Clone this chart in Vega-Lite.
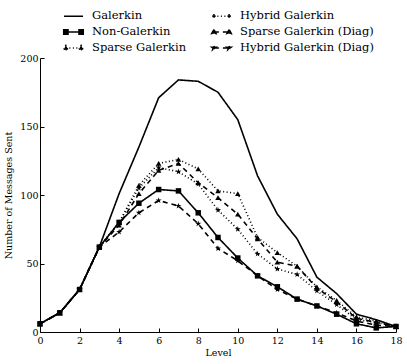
{
  "$schema": "https://vega.github.io/schema/vega-lite/v6.json",
  "width": 356,
  "height": 274,
  "autosize": {"type": "none"},
  "padding": {"left": 40, "top": 58, "right": 11, "bottom": 32},
  "config": {
    "view": {"stroke": null},
    "font": "DejaVu Serif",
    "axis": {
      "grid": false,
      "domainColor": "black",
      "domainWidth": 1,
      "tickColor": "black",
      "labelColor": "black",
      "titleColor": "black",
      "labelFont": "DejaVu Serif",
      "titleFont": "DejaVu Serif",
      "labelFontSize": 9.5,
      "titleFontSize": 9.5,
      "titleFontWeight": "normal",
      "tickSize": -4
    },
    "legend": {
      "title": null,
      "orient": "none",
      "legendX": 25.5,
      "legendY": -50,
      "columns": 2,
      "columnPadding": 22,
      "rowPadding": 2,
      "symbolSize": 196,
      "symbolOpacity": 1,
      "labelOffset": 10.5,
      "labelFont": "DejaVu Serif",
      "labelFontSize": 11.5,
      "labelColor": "black",
      "labelLimit": 300
    }
  },
  "data": {
    "values": [
      {"level": 0, "series": "Galerkin", "value": 6},
      {"level": 1, "series": "Galerkin", "value": 14},
      {"level": 2, "series": "Galerkin", "value": 31},
      {"level": 3, "series": "Galerkin", "value": 62},
      {"level": 4, "series": "Galerkin", "value": 101},
      {"level": 5, "series": "Galerkin", "value": 135},
      {"level": 6, "series": "Galerkin", "value": 171},
      {"level": 7, "series": "Galerkin", "value": 184},
      {"level": 8, "series": "Galerkin", "value": 183},
      {"level": 9, "series": "Galerkin", "value": 175},
      {"level": 10, "series": "Galerkin", "value": 155},
      {"level": 11, "series": "Galerkin", "value": 114},
      {"level": 12, "series": "Galerkin", "value": 86},
      {"level": 13, "series": "Galerkin", "value": 68},
      {"level": 14, "series": "Galerkin", "value": 40},
      {"level": 15, "series": "Galerkin", "value": 28},
      {"level": 16, "series": "Galerkin", "value": 13},
      {"level": 17, "series": "Galerkin", "value": 9},
      {"level": 18, "series": "Galerkin", "value": 4},

      {"level": 0, "series": "Non-Galerkin", "value": 6},
      {"level": 1, "series": "Non-Galerkin", "value": 14},
      {"level": 2, "series": "Non-Galerkin", "value": 31},
      {"level": 3, "series": "Non-Galerkin", "value": 62},
      {"level": 4, "series": "Non-Galerkin", "value": 80},
      {"level": 5, "series": "Non-Galerkin", "value": 94},
      {"level": 6, "series": "Non-Galerkin", "value": 104},
      {"level": 7, "series": "Non-Galerkin", "value": 103},
      {"level": 8, "series": "Non-Galerkin", "value": 87},
      {"level": 9, "series": "Non-Galerkin", "value": 69},
      {"level": 10, "series": "Non-Galerkin", "value": 54},
      {"level": 11, "series": "Non-Galerkin", "value": 41},
      {"level": 12, "series": "Non-Galerkin", "value": 33},
      {"level": 13, "series": "Non-Galerkin", "value": 24},
      {"level": 14, "series": "Non-Galerkin", "value": 19},
      {"level": 15, "series": "Non-Galerkin", "value": 13},
      {"level": 16, "series": "Non-Galerkin", "value": 6},
      {"level": 17, "series": "Non-Galerkin", "value": 3},
      {"level": 18, "series": "Non-Galerkin", "value": 4},

      {"level": 0, "series": "Sparse Galerkin", "value": 6},
      {"level": 1, "series": "Sparse Galerkin", "value": 14},
      {"level": 2, "series": "Sparse Galerkin", "value": 31},
      {"level": 3, "series": "Sparse Galerkin", "value": 62},
      {"level": 4, "series": "Sparse Galerkin", "value": 80},
      {"level": 5, "series": "Sparse Galerkin", "value": 107},
      {"level": 6, "series": "Sparse Galerkin", "value": 123},
      {"level": 7, "series": "Sparse Galerkin", "value": 126},
      {"level": 8, "series": "Sparse Galerkin", "value": 119},
      {"level": 9, "series": "Sparse Galerkin", "value": 103},
      {"level": 10, "series": "Sparse Galerkin", "value": 101},
      {"level": 11, "series": "Sparse Galerkin", "value": 69},
      {"level": 12, "series": "Sparse Galerkin", "value": 58},
      {"level": 13, "series": "Sparse Galerkin", "value": 48},
      {"level": 14, "series": "Sparse Galerkin", "value": 33},
      {"level": 15, "series": "Sparse Galerkin", "value": 23},
      {"level": 16, "series": "Sparse Galerkin", "value": 11},
      {"level": 17, "series": "Sparse Galerkin", "value": 8},
      {"level": 18, "series": "Sparse Galerkin", "value": 4},

      {"level": 0, "series": "Hybrid Galerkin", "value": 6},
      {"level": 1, "series": "Hybrid Galerkin", "value": 14},
      {"level": 2, "series": "Hybrid Galerkin", "value": 31},
      {"level": 3, "series": "Hybrid Galerkin", "value": 62},
      {"level": 4, "series": "Hybrid Galerkin", "value": 80},
      {"level": 5, "series": "Hybrid Galerkin", "value": 105},
      {"level": 6, "series": "Hybrid Galerkin", "value": 120},
      {"level": 7, "series": "Hybrid Galerkin", "value": 117},
      {"level": 8, "series": "Hybrid Galerkin", "value": 108},
      {"level": 9, "series": "Hybrid Galerkin", "value": 89},
      {"level": 10, "series": "Hybrid Galerkin", "value": 75},
      {"level": 11, "series": "Hybrid Galerkin", "value": 57},
      {"level": 12, "series": "Hybrid Galerkin", "value": 46},
      {"level": 13, "series": "Hybrid Galerkin", "value": 42},
      {"level": 14, "series": "Hybrid Galerkin", "value": 30},
      {"level": 15, "series": "Hybrid Galerkin", "value": 20},
      {"level": 16, "series": "Hybrid Galerkin", "value": 9},
      {"level": 17, "series": "Hybrid Galerkin", "value": 7},
      {"level": 18, "series": "Hybrid Galerkin", "value": 4},

      {"level": 0, "series": "Sparse Galerkin (Diag)", "value": 6},
      {"level": 1, "series": "Sparse Galerkin (Diag)", "value": 14},
      {"level": 2, "series": "Sparse Galerkin (Diag)", "value": 31},
      {"level": 3, "series": "Sparse Galerkin (Diag)", "value": 62},
      {"level": 4, "series": "Sparse Galerkin (Diag)", "value": 78},
      {"level": 5, "series": "Sparse Galerkin (Diag)", "value": 101},
      {"level": 6, "series": "Sparse Galerkin (Diag)", "value": 118},
      {"level": 7, "series": "Sparse Galerkin (Diag)", "value": 123},
      {"level": 8, "series": "Sparse Galerkin (Diag)", "value": 109},
      {"level": 9, "series": "Sparse Galerkin (Diag)", "value": 98},
      {"level": 10, "series": "Sparse Galerkin (Diag)", "value": 86},
      {"level": 11, "series": "Sparse Galerkin (Diag)", "value": 68},
      {"level": 12, "series": "Sparse Galerkin (Diag)", "value": 51},
      {"level": 13, "series": "Sparse Galerkin (Diag)", "value": 48},
      {"level": 14, "series": "Sparse Galerkin (Diag)", "value": 32},
      {"level": 15, "series": "Sparse Galerkin (Diag)", "value": 22},
      {"level": 16, "series": "Sparse Galerkin (Diag)", "value": 10},
      {"level": 17, "series": "Sparse Galerkin (Diag)", "value": 7},
      {"level": 18, "series": "Sparse Galerkin (Diag)", "value": 4},

      {"level": 0, "series": "Hybrid Galerkin (Diag)", "value": 6},
      {"level": 1, "series": "Hybrid Galerkin (Diag)", "value": 14},
      {"level": 2, "series": "Hybrid Galerkin (Diag)", "value": 31},
      {"level": 3, "series": "Hybrid Galerkin (Diag)", "value": 62},
      {"level": 4, "series": "Hybrid Galerkin (Diag)", "value": 73},
      {"level": 5, "series": "Hybrid Galerkin (Diag)", "value": 87},
      {"level": 6, "series": "Hybrid Galerkin (Diag)", "value": 96},
      {"level": 7, "series": "Hybrid Galerkin (Diag)", "value": 92},
      {"level": 8, "series": "Hybrid Galerkin (Diag)", "value": 79},
      {"level": 9, "series": "Hybrid Galerkin (Diag)", "value": 61},
      {"level": 10, "series": "Hybrid Galerkin (Diag)", "value": 52},
      {"level": 11, "series": "Hybrid Galerkin (Diag)", "value": 41},
      {"level": 12, "series": "Hybrid Galerkin (Diag)", "value": 31},
      {"level": 13, "series": "Hybrid Galerkin (Diag)", "value": 24},
      {"level": 14, "series": "Hybrid Galerkin (Diag)", "value": 19},
      {"level": 15, "series": "Hybrid Galerkin (Diag)", "value": 14},
      {"level": 16, "series": "Hybrid Galerkin (Diag)", "value": 8},
      {"level": 17, "series": "Hybrid Galerkin (Diag)", "value": 5},
      {"level": 18, "series": "Hybrid Galerkin (Diag)", "value": 4}
    ]
  },
  "encoding": {
    "x": {
      "field": "level", "type": "quantitative", "title": "Level",
      "scale": {"domain": [0, 18], "nice": false, "zero": false},
      "axis": {"values": [0, 2, 4, 6, 8, 10, 12, 14, 16, 18], "labelPadding": 7, "titlePadding": 3, "labelFlush": false}
    },
    "y": {
      "field": "value", "type": "quantitative", "title": "Number of Messages Sent",
      "scale": {"domain": [0, 200], "nice": false},
      "axis": {"values": [0, 50, 100, 150, 200], "labelPadding": 6, "titlePadding": 6, "labelFlush": false}
    }
  },
  "layer": [
    {
      "transform": [{"filter": "datum.level < 0"}],
      "mark": {"type": "point", "filled": true, "color": "black", "fill": "black", "stroke": "black", "strokeWidth": 1.5, "opacity": 1},
      "encoding": {
        "shape": {
          "field": "series", "type": "nominal",
          "scale": {
            "domain": ["Galerkin", "Non-Galerkin", "Sparse Galerkin", "Hybrid Galerkin", "Sparse Galerkin (Diag)", "Hybrid Galerkin (Diag)"],
            "range": [
              "M-1.36,0H1.36",
              "M-1.4,-0.31H-0.78V0.31H-1.4Z M-1.09,0H1.09 M0.78,-0.31H1.4V0.31H0.78Z",
              "M-1.09,-0.36L-1.42,0.26H-0.76Z M-1.09,0H1.09 M1.09,-0.36L0.76,0.26H1.42Z",
              "M-1.09,-0.3L-1.022,-0.093L-0.805,-0.093L-0.981,0.035L-0.914,0.243L-1.09,0.115L-1.266,0.243L-1.199,0.035L-1.375,-0.093L-1.157,-0.093Z M-1.09,0H1.09 M1.09,-0.3L1.157,-0.093L1.375,-0.093L1.199,0.035L1.266,0.243L1.09,0.115L0.914,0.243L0.981,0.035L0.805,-0.093L1.022,-0.093Z",
              "M-1.09,-0.36L-1.42,0.26H-0.76Z M-1.09,0H1.09 M1.09,-0.36L0.76,0.26H1.42Z",
              "M-1.09,-0.3L-1.022,-0.093L-0.805,-0.093L-0.981,0.035L-0.914,0.243L-1.09,0.115L-1.266,0.243L-1.199,0.035L-1.375,-0.093L-1.157,-0.093Z M-1.09,0H1.09 M1.09,-0.3L1.157,-0.093L1.375,-0.093L1.199,0.035L1.266,0.243L1.09,0.115L0.914,0.243L0.981,0.035L0.805,-0.093L1.022,-0.093Z"
            ]
          }
        }
      }
    },
    {
      "mark": {"type": "line", "color": "black", "strokeWidth": 1.6},
      "encoding": {
        "order": {"field": "level"},
        "strokeDash": {
          "field": "series", "type": "nominal",
          "scale": {
            "domain": ["Galerkin", "Non-Galerkin", "Sparse Galerkin", "Hybrid Galerkin", "Sparse Galerkin (Diag)", "Hybrid Galerkin (Diag)"],
            "range": [[1, 0], [1, 0], [1, 2.5], [1, 2.5], [5, 4], [5, 4]]
          }
        }
      }
    },
    {
      "transform": [{"filter": "datum.series === 'Non-Galerkin'"}],
      "mark": {"type": "point", "filled": true, "color": "black", "opacity": 1, "size": 30, "shape": "square"}
    },
    {
      "transform": [{"filter": "datum.series === 'Sparse Galerkin' || datum.series === 'Sparse Galerkin (Diag)'"}],
      "mark": {"type": "point", "filled": true, "color": "black", "opacity": 1, "size": 30, "shape": "triangle-up"}
    },
    {
      "transform": [{"filter": "datum.series === 'Hybrid Galerkin' || datum.series === 'Hybrid Galerkin (Diag)'"}],
      "mark": {"type": "point", "filled": true, "color": "black", "opacity": 1, "size": 40, "shape": "M0,-1L0.2245,-0.309L0.951,-0.309L0.363,0.118L0.588,0.809L0,0.382L-0.588,0.809L-0.363,0.118L-0.951,-0.309L-0.2245,-0.309Z"}
    }
  ]
}
